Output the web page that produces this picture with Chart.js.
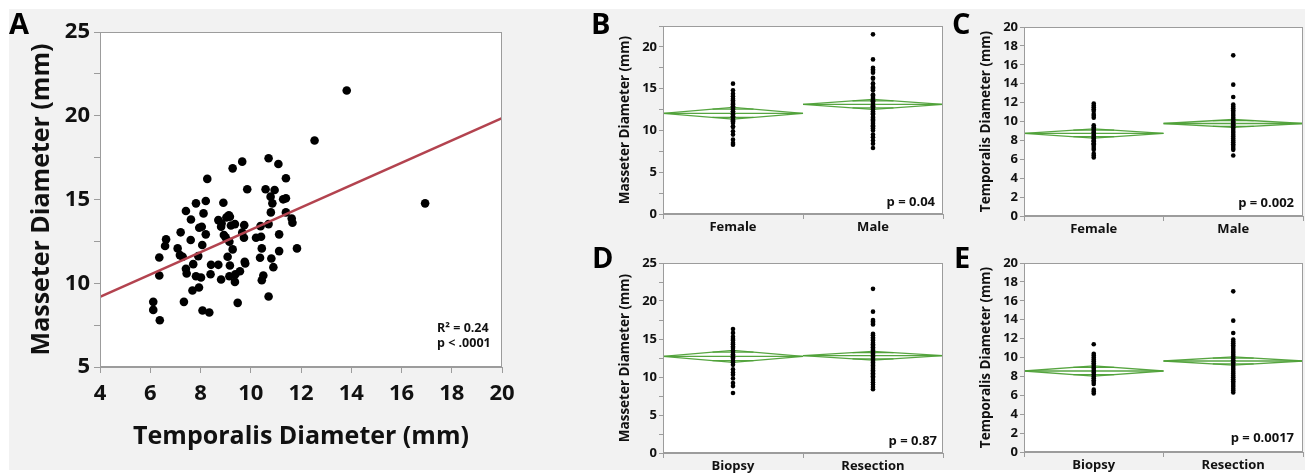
<!DOCTYPE html>
<html><head><meta charset="utf-8">
<script src="https://cdn.jsdelivr.net/npm/chart.js@4.4.1/dist/chart.umd.min.js"></script>
<style>
html,body{margin:0;padding:0;background:#fff;width:1315px;height:475px;overflow:hidden;}
#bg{position:absolute;left:9px;top:9px;width:1296px;height:461px;background:#f2f2f2;}
canvas{position:absolute;}
</style></head><body>
<div id="bg"></div>
<canvas id="cA" width="580" height="475" style="left:0;top:0"></canvas>
<canvas id="cB" width="370" height="240" style="left:580px;top:0"></canvas>
<canvas id="cD" width="370" height="238" style="left:580px;top:237px"></canvas>
<canvas id="cC" width="385" height="240" style="left:930px;top:0"></canvas>
<canvas id="cE" width="385" height="238" style="left:930px;top:237px"></canvas>
<script>
// ---------- Panel A: scatter ----------
const temporalisA = [13.82,12.54,16.94,10.71,11.10,9.66,9.28,8.27,11.40,9.86,
  10.59,10.95,10.79,11.40,11.29,10.86,7.82,8.21,8.91,7.42,
  8.12,10.80,11.40,7.62,8.71,9.13,9.17,9.03,11.63,11.66,
  8.84,9.37,9.74,9.21,10.71,10.39,7.95,8.05,8.82,7.21,
  8.21,11.13,8.93,9.00,9.66,9.73,10.21,10.41,6.63,7.61,
  9.15,6.59,8.07,7.09,9.28,10.44,11.13,11.84,7.18,7.29,
  6.36,7.91,9.08,10.37,10.82,9.76,7.71,8.42,8.71,9.17,
  9.78,7.42,10.90,7.45,8.40,7.82,8.02,9.15,9.39,9.57,
  6.36,8.82,10.50,10.44,9.37,7.68,7.94,10.71,6.12,7.34,
  9.48,6.12,8.08,8.35,6.38];
const masseterA = [21.51,18.52,14.77,17.46,17.12,17.26,16.86,16.23,16.27,15.61,
  15.61,15.57,15.17,15.07,15.01,14.77,14.77,14.91,14.81,14.31,
  14.17,14.23,14.23,13.81,13.77,14.05,13.97,13.93,13.87,13.61,
  13.57,13.53,13.47,13.45,13.53,13.41,13.31,13.37,13.37,13.04,
  12.92,12.92,12.88,12.74,13.02,12.72,12.72,12.78,12.62,12.58,
  12.48,12.22,12.28,12.08,12.02,12.08,11.92,12.08,11.68,11.58,
  11.54,11.62,11.58,11.52,11.48,11.28,11.14,11.10,11.10,11.06,
  11.18,10.86,10.96,10.58,10.54,10.42,10.34,10.42,10.54,10.72,
  10.46,10.22,10.46,10.18,10.08,9.57,9.75,9.21,8.89,8.89,
  8.83,8.41,8.37,8.25,7.79];
const fitX = [4, 20];
const fitY = [9.19, 19.86];
const notesA = ['R\u00B2 = 0.24', 'p < .0001'];

// ---------- Panels B-E: one-way group plots ----------
const sexLabels = ['Female', 'Male'];
const procLabels = ['Biopsy', 'Resection'];

const bFemale = [15.6,14.8,14.4,14.1,13.8,13.6,13.4,13.2,13.1,12.9,12.8,12.6,12.5,12.3,12.2,12.0,11.9,11.7,11.6,11.5,11.3,11.2,11.1,10.9,10.5,10.4,9.9,9.5,8.9,8.5,8.3];
const bMale = [21.5,18.5,17.5,17.3,17.1,16.9,16.3,16.2,15.6,15.6,15.2,15.1,15.0,14.8,14.3,14.2,14.0,13.8,13.6,13.5,13.4,13.2,13.0,12.9,12.8,12.7,12.5,12.3,12.1,12.0,11.9,11.6,11.5,11.3,11.2,11.0,10.8,10.6,10.5,10.3,10.2,10.0,9.5,9.2,8.8,8.4,7.9];
const bMeans = [12.05, 13.12];
const bHalfCI = [0.70, 0.60];

const cFemale = [11.9,11.7,11.5,11.3,11.1,10.8,10.6,10.4,9.6,9.4,9.2,9.1,8.9,8.8,8.6,8.5,8.3,8.2,8.0,7.9,7.7,7.6,7.4,7.2,7.0,6.6,6.4,6.2];
const cMale = [17.0,13.9,12.6,11.8,11.6,11.4,11.2,11.0,10.8,10.6,10.4,10.2,10.0,9.9,9.7,9.6,9.4,9.2,9.0,8.8,8.6,8.4,8.2,8.0,7.8,7.6,7.4,7.2,7.0,6.4];
const cMeans = [8.74, 9.79];
const cHalfCI = [0.49, 0.42];

const dBiopsy = [16.3,15.8,15.3,15.0,14.8,14.5,14.3,14.0,13.8,13.5,13.3,13.0,12.8,12.6,12.4,12.1,11.9,11.6,11.0,10.6,10.3,9.8,9.2,8.8,7.9];
const dResection = [21.6,18.6,17.5,17.3,17.1,16.9,15.7,15.5,15.2,15.0,14.8,14.5,14.3,14.1,13.9,13.7,13.5,13.3,13.1,12.9,12.7,12.5,12.3,12.1,11.9,11.7,11.5,11.3,11.1,10.9,10.7,10.5,10.3,10.1,9.9,9.6,9.3,9.0,8.7,8.4];
const dMeans = [12.71, 12.80];
const dHalfCI = [0.79, 0.57];

const eBiopsy = [11.4,10.4,10.2,10.0,9.8,9.6,9.4,9.2,9.0,8.8,8.6,8.4,8.2,8.0,7.8,7.6,7.4,7.2,6.6,6.4,6.2];
const eResection = [17.0,13.9,12.6,11.9,11.7,11.5,11.3,11.1,10.9,10.7,10.5,10.3,10.1,9.9,9.7,9.5,9.3,9.1,8.9,8.7,8.5,8.3,8.1,7.9,7.7,7.5,7.3,7.1,6.9,6.7,6.5,6.3];
const eMeans = [8.57, 9.63];
const eHalfCI = [0.54, 0.43];

const pTexts = ['p = 0.04', 'p = 0.002', 'p = 0.87', 'p = 0.0017'];

// ---------- styling / helpers ----------
const FONT = "'Open Sans', 'Noto Sans', sans-serif";
Chart.defaults.font.family = FONT;
Chart.defaults.color = '#111';
const AXIS = '#9c9c9c';
const GREEN = 'rgba(78,160,55,0.95)';

const deco = {
  id: 'deco',
  beforeDraw(chart) {
    const {ctx, chartArea: a} = chart;
    ctx.save();
    ctx.fillStyle = '#ffffff';
    ctx.fillRect(a.left, a.top, a.right - a.left, a.bottom - a.top);
    ctx.restore();
  },
  afterDraw(chart, args, o) {
    const {ctx, chartArea: a} = chart;
    ctx.save();
    ctx.strokeStyle = AXIS; ctx.lineWidth = 1;
    ctx.strokeRect(Math.round(a.left) + 0.5, Math.round(a.top) + 0.5,
                   Math.round(a.right - a.left) - 1, Math.round(a.bottom - a.top) - 1);
    ctx.fillStyle = '#000';
    ctx.font = 'bold 29px ' + FONT;
    ctx.textAlign = 'left'; ctx.textBaseline = 'alphabetic';
    ctx.fillText(o.letter, o.lx, o.ly);
    (o.notes || []).forEach(n => {
      ctx.font = 'bold ' + n.size + 'px ' + FONT;
      ctx.textAlign = n.align; ctx.textBaseline = 'middle';
      ctx.fillStyle = '#111';
      ctx.fillText(n.text, n.x, n.y);
    });
    ctx.restore();
  }
};

const isMajor = (v, step) => Math.abs(v / step - Math.round(v / step)) < 1e-6;

// ---------- Panel A ----------
new Chart(document.getElementById('cA'), {
  type: 'scatter',
  data: { datasets: [
    { data: fitX.map((x, i) => ({x, y: fitY[i]})), showLine: true, pointRadius: 0,
      borderColor: '#b3434f', borderWidth: 2.6 },
    { data: temporalisA.map((x, i) => ({x, y: masseterA[i]})), pointRadius: 4.3,
      backgroundColor: '#000', borderWidth: 0 }
  ]},
  options: {
    responsive: false, animation: false, events: [],
    layout: { padding: { left: 0, top: 32, right: 78, bottom: 0 } },
    plugins: { legend: { display: false }, tooltip: { enabled: false },
      deco: { letter: 'A', lx: 9, ly: 34, notes: [
        { text: notesA[0], x: 437, y: 328, size: 12.5, align: 'left' },
        { text: notesA[1], x: 437, y: 343, size: 12.5, align: 'left' } ] } },
    scales: {
      x: { type: 'linear', min: 4, max: 20,
        afterFit: s => { s.height = 108; },
        ticks: { stepSize: 2, padding: 8, maxRotation: 0, autoSkip: false, color: '#111',
                 font: { size: 22, weight: 'bold' } },
        grid: { drawOnChartArea: false, tickLength: 6, color: AXIS },
        border: { color: AXIS },
        title: { display: true, text: 'Temporalis Diameter (mm)', color: '#111',
                 font: { size: 25, weight: 'bold' }, padding: { top: 0, bottom: 23 } } },
      y: { min: 5, max: 25,
        afterFit: s => { s.width = 100; },
        ticks: { stepSize: 2.5, padding: 4, color: '#111', font: { size: 22, weight: 'bold' },
                 callback: v => isMajor(v, 5) ? String(v) : '' },
        grid: { drawOnChartArea: false, tickLength: 6, color: AXIS },
        border: { color: AXIS },
        title: { display: true, text: 'Masseter Diameter (mm)', color: '#111',
                 font: { size: 25, weight: 'bold' }, padding: { top: 27, bottom: 0 } } }
    }
  },
  plugins: [deco]
});

// ---------- Group charts ----------
function groupChart(id, cfg) {
  const datasets = [];
  cfg.groups.forEach((vals, i) => datasets.push({
    data: vals.map(v => ({x: i, y: v})), pointRadius: 2.3, backgroundColor: '#000', borderWidth: 0
  }));
  const k = 1 / Math.SQRT2, hw = 0.5 * (1 - k);
  cfg.means.forEach((m, i) => {
    const h = cfg.half[i];
    const line = pts => ({ data: pts, showLine: true, pointRadius: 0, borderColor: GREEN, borderWidth: 1.3 });
    datasets.push(line([{x: i - 0.5, y: m}, {x: i, y: m + h}, {x: i + 0.5, y: m}, {x: i, y: m - h}, {x: i - 0.5, y: m}]));
    datasets.push(line([{x: i - 0.5, y: m}, {x: i + 0.5, y: m}]));
    datasets.push(line([{x: i - hw, y: m + h * k}, {x: i + hw, y: m + h * k}]));
    datasets.push(line([{x: i - hw, y: m - h * k}, {x: i + hw, y: m - h * k}]));
  });
  new Chart(document.getElementById(id), {
    type: 'scatter',
    data: { datasets },
    options: {
      responsive: false, animation: false, events: [],
      layout: { padding: { left: 0, top: cfg.padTop, right: cfg.padRight, bottom: 0 } },
      plugins: { legend: { display: false }, tooltip: { enabled: false },
        deco: { letter: cfg.letter, lx: cfg.lx, ly: cfg.ly,
          notes: [{ text: cfg.p, x: cfg.px, y: cfg.py, size: 13, align: 'right' }] } },
      scales: {
        x: { type: 'linear', min: -0.5, max: 1.5,
          afterBuildTicks: s => { s.ticks = [-0.5, 0, 0.5, 1, 1.5].map(v => ({value: v})); },
          afterFit: s => { s.height = cfg.xh; },
          ticks: { autoSkip: false, maxRotation: 0, padding: 0, color: '#111',
                   font: { size: 13, weight: 'bold' },
                   callback: v => v === 0 ? cfg.labels[0] : (v === 1 ? cfg.labels[1] : '') },
          grid: { drawOnChartArea: false, tickLength: 5, color: AXIS,
                  tickColor: c => (c.tick && Number.isInteger(c.tick.value)) ? 'rgba(0,0,0,0)' : AXIS },
          border: { color: AXIS } },
        y: { min: 0, max: cfg.ymax,
          afterFit: s => { s.width = cfg.yw; },
          ticks: { stepSize: cfg.step, padding: 2, color: '#111', font: { size: 13, weight: 'bold' },
                   callback: v => isMajor(v, cfg.major) ? String(v) : '' },
          grid: { drawOnChartArea: false, tickLength: 4, color: AXIS },
          border: { color: AXIS },
          title: { display: true, text: cfg.ytitle, color: '#111',
                   font: { size: 13.5, weight: 'bold' }, padding: { top: cfg.titlePad, bottom: 0 } } }
      }
    },
    plugins: [deco]
  });
}

groupChart('cB', { groups: [bFemale, bMale], means: bMeans, half: bHalfCI, labels: sexLabels,
  ymax: 22.5, step: 2.5, major: 5, ytitle: 'Masseter Diameter (mm)',
  yw: 83, padTop: 26, padRight: 7, xh: 26, titlePad: 37,
  letter: 'B', lx: 11, ly: 34, p: pTexts[0], px: 355, py: 202 });
groupChart('cC', { groups: [cFemale, cMale], means: cMeans, half: cHalfCI, labels: sexLabels,
  ymax: 20, step: 2, major: 2, ytitle: 'Temporalis Diameter (mm)',
  yw: 94, padTop: 27, padRight: 12, xh: 24, titlePad: 48,
  letter: 'C', lx: 22, ly: 34, p: pTexts[1], px: 364, py: 203 });
groupChart('cD', { groups: [dBiopsy, dResection], means: dMeans, half: dHalfCI, labels: procLabels,
  ymax: 25, step: 2.5, major: 5, ytitle: 'Masseter Diameter (mm)',
  yw: 83, padTop: 26, padRight: 7, xh: 22, titlePad: 37,
  letter: 'D', lx: 12, ly: 31, p: pTexts[2], px: 357, py: 204 });
groupChart('cE', { groups: [eBiopsy, eResection], means: eMeans, half: eHalfCI, labels: procLabels,
  ymax: 20, step: 2, major: 2, ytitle: 'Temporalis Diameter (mm)',
  yw: 94, padTop: 26, padRight: 12, xh: 23, titlePad: 48,
  letter: 'E', lx: 24, ly: 31, p: pTexts[3], px: 364, py: 201 });
</script>
</body></html>
